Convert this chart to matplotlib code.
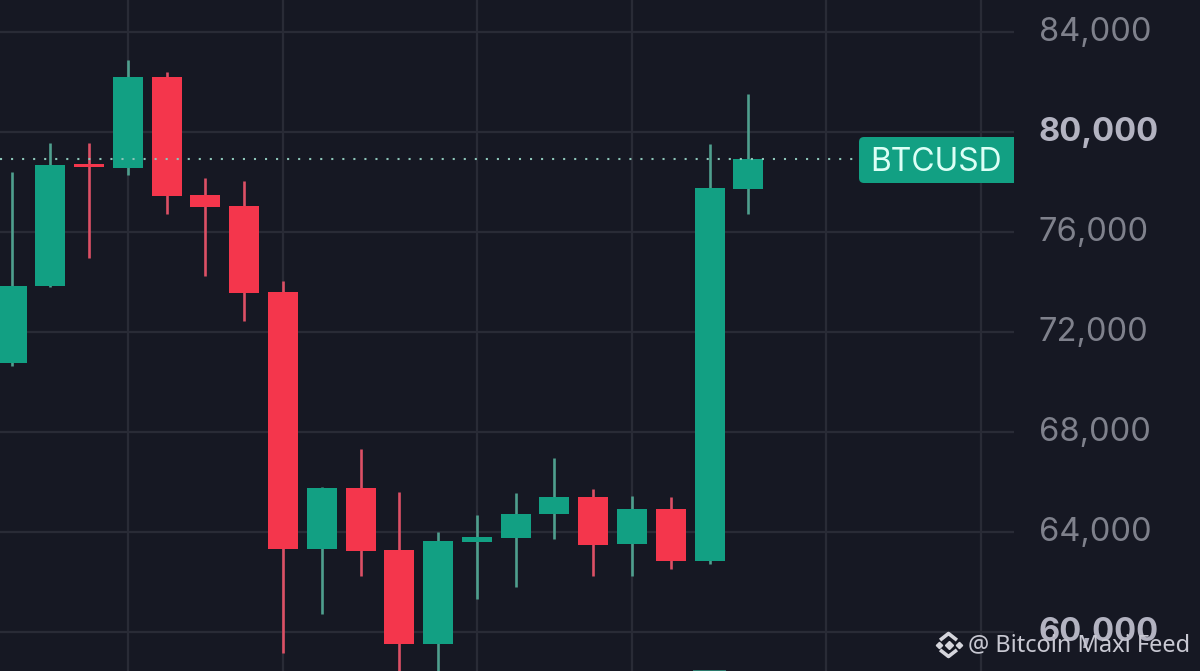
# BTCUSD weekly style candles, dark theme
import matplotlib
matplotlib.use("Agg")
import matplotlib.pyplot as plt
from matplotlib.patches import FancyBboxPatch
from matplotlib.transforms import IdentityTransform, ScaledTranslation

# prices
opens = [70740, 73820, 78700, 78552, 82192, 77448, 77008, 73580, 63300, 65728,
         63248, 59488, 63592, 63728, 64688, 65380, 63488, 64888, 62820, 77712]
closes = [73832, 78660, 78592, 82192, 77420, 76968, 73540, 63300, 65728, 63232,
          59488, 63620, 63768, 64712, 65368, 63472, 64888, 62820, 77728, 78888]
highs = [78392, 79540, 79528, 82860, 82380, 78140, 78020, 74020, 65792, 67288,
         65580, 63968, 64672, 65552, 66940, 65688, 65432, 65368, 79488, 81488]
lows = [70620, 73780, 74940, 78260, 76712, 74208, 72420, 59152, 60712, 62220,
        58000, 58000, 61288, 61768, 63688, 62232, 62232, 62500, 62712, 76700]

price_ticks = [60000, 64000, 68000, 72000, 76000, 80000, 84000]
bold_ticks = [60000, 80000]
time_ticks = [3, 7, 12, 16, 21, 25]
symbol = "BTCUSD"
watermark = "@ Bitcoin Maxi Feed"
volume_top = 58470
volume_index = 18

BG = "#161823"
GRID = "#292b36"
GREEN = "#12a083"
RED = "#f4364c"
GREEN_WICK = "#4f9f8e"
RED_WICK = "#dc5065"

plt.rcParams["font.family"] = ["Inter", "DejaVu Sans"]

fig = plt.figure(figsize=(12, 6.71), dpi=100, facecolor=BG)
ax = fig.add_axes([0, 0, 1014 / 1200, 1], facecolor=BG)

# one candle is 38.78 px wide on the picture
ax.set_xlim(-0.297, 25.85)
ax.set_ylim(58420, 85260)

for i in range(len(opens)):
    up = closes[i] >= opens[i]
    ax.vlines(i, lows[i], highs[i], color=GREEN_WICK if up else RED_WICK, lw=1.9, zorder=3)
    ax.bar(i, closes[i] - opens[i], bottom=opens[i], width=0.775,
           color=GREEN if up else RED, zorder=4)

# top of the volume bar just shows at the lower edge
ax.bar(volume_index, volume_top - 58000, bottom=58000, width=0.86, color="#2a7a6c", zorder=2)

# last price line
ax.axhline(closes[-1], color="#8cc5b8", lw=1.5, ls=(0, (1, 4.3)), zorder=5)

ax.set_xticks(time_ticks)
ax.set_xticklabels([])
ax.yaxis.tick_right()
ax.set_yticks(price_ticks)
ax.set_yticklabels([f"{p:,}" for p in price_ticks])
ax.tick_params(axis="both", length=0)
ax.tick_params(axis="y", pad=18, labelsize=23.5, labelcolor="#7f818c")
ax.grid(True, color=GRID, lw=1.6, zorder=0)
ax.set_axisbelow(True)
for s in ax.spines.values():
    s.set_visible(False)

shift = ScaledTranslation(0, 1.8 / 72, fig.dpi_scale_trans)
for p, lab in zip(price_ticks, ax.get_yticklabels()):
    lab.set_transform(lab.get_transform() + shift)
    if p in bold_ticks:
        lab.set_fontweight("bold")
        lab.set_color("#b3b3c1")

# symbol tag, right side is cut square by the axes edge
tag = FancyBboxPatch((862, 671 - 180), 170, 40, boxstyle="round,pad=3,rounding_size=5",
                     transform=IdentityTransform(), fc=GREEN, ec="none", zorder=6)
ax.add_patch(tag)
fig.text(936 / 1200, 1 - 162.5 / 671, symbol, color="#dcfff6", fontsize=23,
         ha="center", va="center", zorder=7)

# watermark with the small diamond logo
fig.text(968 / 1200, 1 - 645 / 671, watermark, color="#c8c8d2", fontsize=17,
         family=["Noto Sans", "DejaVu Sans"], ha="left", va="center", zorder=7)
cx, cy = 948.5, 671 - 645
mark = dict(transform=IdentityTransform(), color="#d5d5dc", clip_on=False, zorder=7)
ax.plot([cx], [cy], marker="D", ms=3.8, ls="none", **mark)
ax.plot([cx - 10], [cy], marker="D", ms=3.2, ls="none", **mark)
ax.plot([cx + 10], [cy], marker="D", ms=3.2, ls="none", **mark)
ax.plot([cx - 7, cx, cx + 7], [cy + 6, cy + 11.5, cy + 6], lw=2.6, **mark)
ax.plot([cx - 7, cx, cx + 7], [cy - 6, cy - 11.5, cy - 6], lw=2.6, **mark)

fig.savefig("out.png", dpi=100, facecolor=BG)
